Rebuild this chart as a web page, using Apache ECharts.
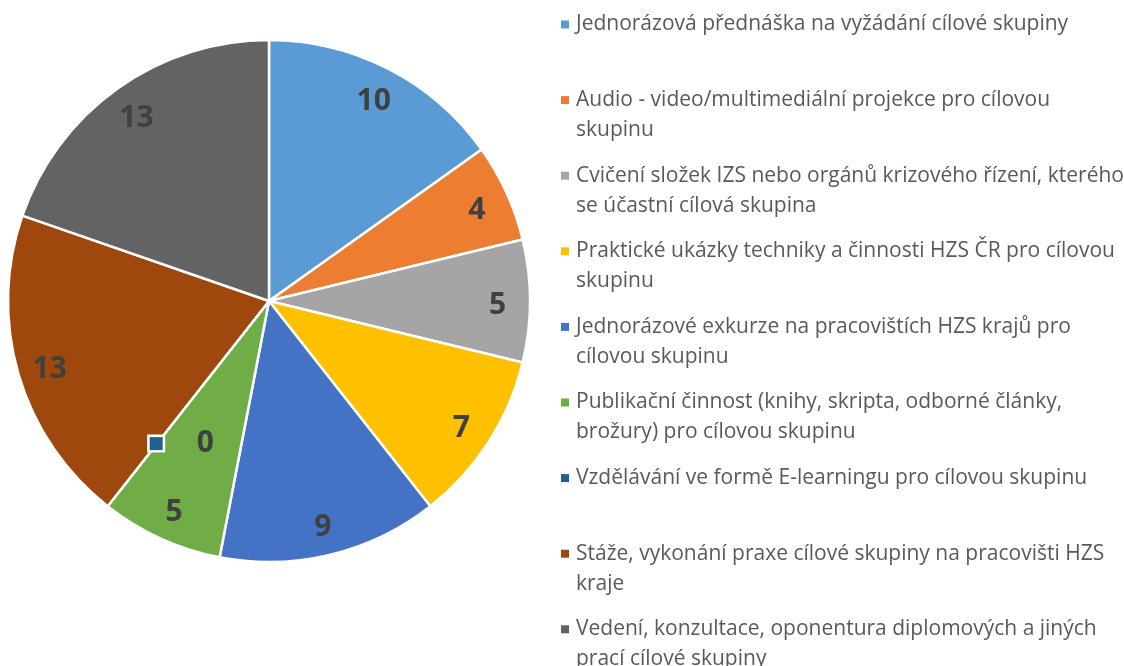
<!DOCTYPE html>
<html>
<head>
<meta charset="utf-8">
<script src="https://cdn.jsdelivr.net/npm/echarts@6/dist/echarts.min.js"></script>
<style>
html, body { margin: 0; padding: 0; background: #fff; }
#chart { width: 1124px; height: 666px; }
</style>
</head>
<body>
<div id="chart"></div>
<script>
// kategorie (zalomení legendy je dané znakem \n)
var categories = [
	'Jednorázová přednáška na vyžádání cílové skupiny',
	'Audio - video/multimediální projekce pro cílovou\nskupinu',
	'Cvičení složek IZS nebo orgánů krizového řízení, kterého\nse účastní cílová skupina',
	'Praktické ukázky techniky a činnosti HZS ČR pro cílovou\nskupinu',
	'Jednorázové exkurze na pracovištích HZS krajů pro\ncílovou skupinu',
	'Publikační činnost (knihy, skripta, odborné články,\nbrožury) pro cílovou skupinu',
	'Vzdělávání ve formě E-learningu pro cílovou skupinu',
	'Stáže, vykonání praxe cílové skupiny na pracovišti HZS\nkraje',
	'Vedení, konzultace, oponentura diplomových a jiných\nprací cílové skupiny'
];
var values = [10, 4, 5, 7, 9, 5, 0, 13, 13];
var colors = ['#5B9BD5', '#ED7D31', '#A5A5A5', '#FFC000', '#4472C4', '#70AD47', '#255E91', '#9E480E', '#636363'];

var font = 'Open Sans';
var center = [269, 301];

var pieData = [];
var labelData = [];
for (var i = 0; i < categories.length; i++) {
	pieData.push({ name: categories[i], value: values[i], itemStyle: { color: colors[i] } });
	var item = { name: categories[i], value: values[i] };
	if (values[i] === 0) {
		// nulová položka: popisek s klíčem legendy, posunutý dovnitř
		item.label = {
			formatter: '{sq|}{g|}{v|{c}}',
			offset: [54, -37]
		};
	}
	labelData.push(item);
}

var legendRich = {
	t: { fontFamily: font, fontSize: 21, color: '#595959', lineHeight: 30 },
	i: { width: 15, lineHeight: 30 },
	g: { width: 7 }
};
for (var k = 0; k < colors.length; k++) {
	legendRich['q' + k] = { width: 8, height: 8, backgroundColor: colors[k] };
}

var myChart = echarts.init(document.getElementById('chart'));
var option = {
	animation: false,
	tooltip: { trigger: 'item', formatter: '{b}: {c}' },
	legend: {
		orient: 'vertical',
		left: 551,
		top: 9,
		height: 720,
		itemGap: 24.6,
		icon: 'none',
		itemWidth: 0,
		itemHeight: 0,
		data: categories,
		formatter: function(name) {
			var idx = categories.indexOf(name);
			var parts = name.split('\n');
			var s = '{q' + idx + '|}{g|}{t|' + parts[0] + '}\n{i|}';
			s += parts[1] ? '{t|' + parts[1] + '}' : '{t| }';
			return s;
		},
		textStyle: { rich: legendRich }
	},
	series: [
		{
			name: 'Aktivity',
			type: 'pie',
			center: center,
			radius: [0, 261],
			startAngle: 90,
			clockwise: true,
			avoidLabelOverlap: false,
			label: { show: false },
			labelLine: { show: false },
			itemStyle: { borderColor: '#ffffff', borderWidth: 2.5 },
			data: pieData
		},
		{
			// pomocný prstenec jen pro popisky hodnot
			name: 'Popisky',
			type: 'pie',
			center: center,
			radius: [190, 261],
			startAngle: 90,
			clockwise: true,
			silent: true,
			avoidLabelOverlap: false,
			itemStyle: { color: 'rgba(0,0,0,0)' },
			emphasis: { disabled: true },
			labelLine: { show: false },
			label: {
				show: true,
				position: 'inside',
				offset: [0, 4],
				formatter: '{c}',
				fontFamily: font,
				fontSize: 30,
				fontWeight: 'bold',
				color: '#404040',
				rich: {
					sq: { width: 13, height: 13, verticalAlign: 'middle', backgroundColor: '#255E91', borderColor: '#ffffff', borderWidth: 2.5 },
					g: { width: 34 },
					v: { fontFamily: font, fontSize: 30, fontWeight: 'bold', color: '#404040' }
				}
			},
			data: labelData
		}
	]
};
myChart.setOption(option);

window.onresize = function() {
	myChart.resize();
};
</script>
</body>
</html>
